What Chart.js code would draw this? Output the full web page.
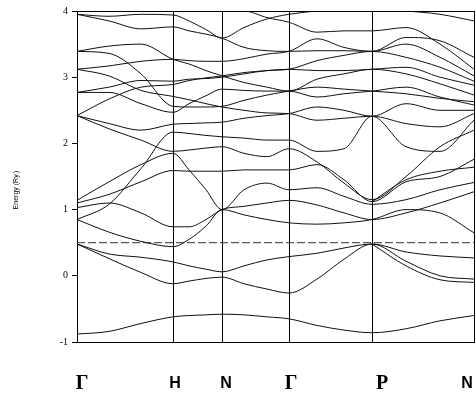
<!DOCTYPE html>
<html>
<head>
<meta charset="utf-8">
<script src="https://cdn.jsdelivr.net/npm/chart.js@4"></script>
<style>
html, body { margin: 0; padding: 0; background: #fff; }
</style>
</head>
<body>
<canvas id="chart" width="476" height="399"></canvas>
<script>
// k-path sample positions (Γ H N Γ P N with two samples between each)
const kPos = [0, 32, 64, 96, 112, 129, 145, 167, 190, 212, 240, 267, 295, 329, 363, 397];
const symPos = [0, 96, 145, 212, 295, 397];
const symLabels = ['Γ', 'H', 'N', 'Γ', 'P', 'N'];
const yTicks = [-1, 0, 1, 2, 3, 4];
const fermi = 0.5;

// band energies (Ry.) at each kPos
const band1 = [-0.88, -0.84, -0.72, -0.62, -0.60, -0.59, -0.58, -0.59, -0.62, -0.65, -0.75, -0.82, -0.86, -0.80, -0.68, -0.60];
const band2 = [0.48, 0.26, 0.05, -0.12, -0.08, -0.04, -0.02, -0.12, -0.20, -0.26, -0.05, 0.25, 0.48, 0.22, 0.00, -0.05];
const band3 = [0.48, 0.33, 0.28, 0.21, 0.15, 0.10, 0.06, 0.15, 0.24, 0.29, 0.34, 0.42, 0.48, 0.36, 0.30, 0.27];
const band4 = [0.85, 0.66, 0.52, 0.44, 0.55, 0.75, 1.00, 0.92, 0.85, 0.80, 0.78, 0.80, 0.85, 1.00, 0.95, 0.65];
const band5 = [1.03, 1.10, 0.95, 0.74, 0.74, 0.85, 1.00, 1.05, 1.10, 1.14, 1.07, 0.95, 0.85, 0.95, 1.10, 1.27];
const band6 = [1.10, 1.23, 1.42, 1.59, 1.58, 1.58, 1.58, 1.60, 1.60, 1.60, 1.68, 1.45, 1.12, 1.42, 1.50, 1.76];
const band7 = [1.14, 1.42, 1.68, 1.85, 1.60, 1.30, 1.00, 1.30, 1.40, 1.30, 1.33, 1.20, 1.08, 1.15, 1.30, 1.41];
const band8 = [0.85, 1.08, 1.62, 2.17, 2.15, 2.12, 2.10, 2.08, 2.05, 2.05, 1.88, 1.92, 2.41, 1.95, 1.88, 2.35];
const band9 = [2.42, 2.22, 2.05, 1.88, 1.90, 1.93, 1.95, 1.85, 1.80, 1.92, 1.72, 1.40, 1.15, 1.50, 1.95, 2.20];
const band10 = [2.42, 2.30, 2.20, 2.29, 2.30, 2.31, 2.32, 2.38, 2.42, 2.45, 2.55, 2.50, 2.41, 2.60, 2.50, 2.50];
const band11 = [2.42, 2.67, 2.85, 2.89, 2.95, 2.99, 3.02, 3.07, 3.10, 3.12, 3.10, 3.10, 3.12, 3.15, 3.00, 2.88];
const band12 = [2.77, 2.77, 2.60, 2.47, 2.60, 2.72, 2.82, 2.80, 2.79, 2.79, 2.70, 2.75, 2.79, 2.85, 2.70, 2.58];
const band13 = [2.77, 2.85, 2.95, 2.94, 2.97, 2.98, 3.00, 3.05, 3.10, 3.12, 3.25, 3.33, 3.39, 3.30, 3.15, 2.94];
const band14 = [3.12, 3.02, 2.80, 2.71, 2.66, 2.60, 2.55, 2.50, 2.46, 2.45, 2.35, 2.38, 2.41, 2.30, 2.25, 2.45];
const band15 = [3.12, 3.17, 3.24, 3.27, 3.25, 3.24, 3.24, 3.28, 3.35, 3.39, 3.58, 3.45, 3.39, 3.60, 3.55, 3.30];
const band16 = [3.39, 3.36, 3.05, 2.56, 2.55, 2.55, 2.56, 2.65, 2.73, 2.79, 2.85, 2.82, 2.79, 2.75, 2.68, 2.63];
const band17 = [3.39, 3.47, 3.50, 3.27, 3.20, 3.10, 3.02, 2.92, 2.85, 2.79, 2.97, 3.05, 3.12, 3.05, 2.90, 2.73];
const band18 = [3.95, 3.85, 3.73, 3.76, 3.70, 3.65, 3.59, 3.45, 3.40, 3.39, 3.40, 3.40, 3.39, 3.50, 3.30, 3.02];
const band19 = [3.95, 3.92, 3.95, 3.94, 3.85, 3.72, 3.59, 3.75, 3.88, 3.95, 4.00, 4.02, 4.03, 4.00, 3.95, 3.85];
const band20 = [4.20, 4.10, 4.03, 4.00, 4.00, 4.00, 4.00, 4.00, 3.90, 3.83, 3.68, 3.70, 3.70, 3.75, 3.50, 3.12];
// bands only seen on the P-N leg
const band21 = [null, null, null, null, null, null, null, null, null, null, null, null, 0.48, 0.15, -0.06, -0.10];
const band22 = [null, null, null, null, null, null, null, null, null, null, null, null, 1.12, 1.45, 1.58, 1.64];

const bands = [band1, band2, band3, band4, band5, band6, band7, band8, band9, band10, band11,
    band12, band13, band14, band15, band16, band17, band18, band19, band20, band21, band22];

const datasets = bands.map((b) => ({
    data: kPos.map((k, i) => ({ x: k, y: b[i] })),
    borderColor: '#111',
    borderWidth: 1,
    pointRadius: 0,
    cubicInterpolationMode: 'monotone',
    spanGaps: false,
}));

// Fermi level, dashed
datasets.push({
    data: [{ x: symPos[0], y: fermi }, { x: symPos[symPos.length - 1], y: fermi }],
    borderColor: '#333',
    borderWidth: 1,
    borderDash: [8, 3],
    pointRadius: 0,
});

// label and frame drawing
const labelShift = [5, 2, 4, 2, 10, -7];
const framePlugin = {
    id: 'frame',
    afterDraw(chart) {
        const ctx = chart.ctx;
        const area = chart.chartArea;
        ctx.save();
        ctx.strokeStyle = '#000';
        ctx.lineWidth = 1;
        ctx.beginPath();
        ctx.moveTo(area.left, Math.round(area.top) + 0.5);
        ctx.lineTo(area.right, Math.round(area.top) + 0.5);
        ctx.stroke();

        ctx.fillStyle = '#000';
        ctx.textAlign = 'center';
        ctx.textBaseline = 'middle';
        symLabels.forEach((lab, i) => {
            const x = chart.scales.x.getPixelForValue(symPos[i]) + labelShift[i];
            if (lab === 'Γ' || lab === 'P') {
                ctx.font = 'bold 20px "Liberation Serif"';
            } else {
                ctx.font = 'bold 16px "Liberation Sans"';
            }
            ctx.fillText(lab, x, 384);
        });

        ctx.translate(16, 190);
        ctx.rotate(-Math.PI / 2);
        ctx.font = '7px "Liberation Sans"';
        ctx.fillText('Energy (Ry.)', 0, 0);
        ctx.restore();
    }
};

new Chart(document.getElementById('chart').getContext('2d'), {
    type: 'line',
    data: { datasets },
    options: {
        responsive: false,
        animation: false,
        layout: { padding: { top: 11, right: 2, left: 0, bottom: 0 } },
        plugins: { legend: { display: false }, tooltip: { enabled: false } },
        scales: {
            x: {
                type: 'linear',
                min: symPos[0],
                max: symPos[symPos.length - 1],
                afterBuildTicks: (s) => { s.ticks = symPos.map((v) => ({ value: v })); },
                afterFit: (s) => { s.height = 57; },
                ticks: { display: false },
                grid: { color: '#000', lineWidth: 1, drawTicks: false },
                border: { display: true, color: '#000' },
            },
            y: {
                min: -1,
                max: 4,
                afterBuildTicks: (s) => { s.ticks = yTicks.map((v) => ({ value: v })); },
                afterFit: (s) => { s.width = 77; },
                ticks: { color: '#000', padding: 4, font: { family: 'Liberation Serif', size: 10 } },
                grid: { drawOnChartArea: false, drawTicks: true, tickLength: 5, color: '#000' },
                border: { display: true, color: '#000' },
            }
        }
    },
    plugins: [framePlugin]
});
</script>
</body>
</html>
